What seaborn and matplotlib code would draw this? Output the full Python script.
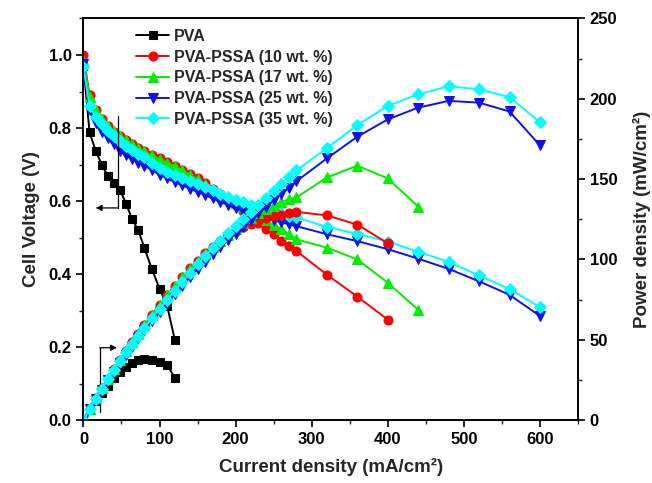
import matplotlib
matplotlib.use("Agg")
import matplotlib.pyplot as plt
from matplotlib.ticker import MultipleLocator, FormatStrFormatter
import seaborn as sns
import pandas as pd

# Current density grid (mA/cm2)
pva_current = [0, 8, 16, 24, 32, 40, 48, 56, 64, 72, 80, 90, 100, 110, 120]
pssa_current = [0, 8, 16, 24, 32, 40, 48, 56, 64, 72, 80, 90, 100, 110, 120,
                130, 140, 150, 160, 170, 180, 190, 200, 210, 220, 230, 240,
                250, 260, 270, 280, 320, 360, 400, 440, 480, 520, 560, 600]

# Cell voltage (V)
pva_voltage = [0.970, 0.788, 0.738, 0.700, 0.668, 0.649, 0.630, 0.593, 0.550,
               0.520, 0.472, 0.413, 0.360, 0.313, 0.220]
pssa10_voltage = [0.999, 0.890, 0.850, 0.825, 0.805, 0.790, 0.778, 0.766, 0.755,
                  0.745, 0.737, 0.727, 0.717, 0.707, 0.697, 0.686, 0.674, 0.662,
                  0.648, 0.634, 0.620, 0.605, 0.590, 0.573, 0.556, 0.540, 0.523,
                  0.509, 0.491, 0.477, 0.463, 0.398, 0.338, 0.275]
pssa17_voltage = [0.985, 0.885, 0.848, 0.825, 0.806, 0.791, 0.778, 0.766, 0.755,
                  0.745, 0.736, 0.725, 0.715, 0.705, 0.695, 0.684, 0.672, 0.660,
                  0.647, 0.634, 0.620, 0.608, 0.595, 0.583, 0.571, 0.559, 0.547,
                  0.535, 0.523, 0.509, 0.495, 0.472, 0.440, 0.376, 0.302]
pssa25_voltage = [0.974, 0.850, 0.815, 0.790, 0.772, 0.755, 0.737, 0.725, 0.714,
                  0.705, 0.697, 0.685, 0.672, 0.662, 0.652, 0.643, 0.634, 0.625,
                  0.616, 0.607, 0.598, 0.589, 0.580, 0.573, 0.566, 0.559, 0.553,
                  0.547, 0.542, 0.536, 0.531, 0.509, 0.490, 0.468, 0.442, 0.414,
                  0.380, 0.343, 0.285]
pssa35_voltage = [0.967, 0.860, 0.830, 0.810, 0.792, 0.778, 0.765, 0.752, 0.740,
                  0.730, 0.720, 0.705, 0.690, 0.680, 0.671, 0.663, 0.655, 0.647,
                  0.638, 0.629, 0.620, 0.612, 0.604, 0.597, 0.590, 0.583, 0.577,
                  0.571, 0.565, 0.560, 0.555, 0.529, 0.510, 0.489, 0.461, 0.433,
                  0.396, 0.359, 0.309]

# Power density (mW/cm2)
pva_power = [0.0, 6.3, 11.8, 16.8, 21.4, 26.0, 30.2, 33.2, 35.2, 37.4, 37.8,
             37.2, 36.0, 34.4, 26.4]
pssa10_power = [0.0, 7.1, 13.6, 19.8, 25.8, 31.6, 37.3, 42.9, 48.3, 53.6, 59.0,
                65.4, 71.7, 77.8, 83.6, 89.2, 94.4, 99.3, 103.7, 107.8, 111.6,
                115.0, 118.0, 120.3, 122.3, 124.2, 125.5, 127.3, 127.7, 128.8,
                129.6, 127.4, 121.7, 110.0]
pssa17_power = [0.0, 7.1, 13.6, 19.8, 25.8, 31.6, 37.3, 42.9, 48.3, 53.6, 58.9,
                65.3, 71.5, 77.6, 83.4, 88.9, 94.1, 99.0, 103.5, 107.8, 111.6,
                115.5, 119.0, 122.4, 125.6, 128.6, 131.3, 133.8, 136.0, 137.4,
                138.6, 151.0, 158.4, 150.4, 132.9]
pssa25_power = [0.0, 6.8, 13.0, 19.0, 24.7, 30.2, 35.4, 40.6, 45.7, 50.8, 55.8,
                61.7, 67.2, 72.8, 78.2, 83.6, 88.8, 93.8, 98.6, 103.2, 107.6,
                111.9, 116.0, 120.3, 124.5, 128.6, 132.7, 136.8, 140.9, 144.7,
                148.7, 162.9, 176.4, 187.2, 194.5, 198.7, 197.6, 192.1, 171.0]
pssa35_power = [0.0, 6.9, 13.3, 19.4, 25.3, 31.1, 36.7, 42.1, 47.4, 52.6, 57.6,
                63.5, 69.0, 74.8, 80.5, 86.2, 91.7, 97.1, 102.1, 106.9, 111.6,
                116.3, 120.8, 125.4, 129.8, 134.1, 138.5, 142.8, 146.9, 151.2,
                155.4, 169.3, 183.6, 195.6, 202.8, 207.8, 205.9, 201.0, 185.4]

labels = ["PVA", "PVA-PSSA (10 wt. %)", "PVA-PSSA (17 wt. %)",
          "PVA-PSSA (25 wt. %)", "PVA-PSSA (35 wt. %)"]

sns.set_style("ticks")
plt.rcParams["font.family"] = ["Liberation Sans", "DejaVu Sans"]
plt.rcParams["font.weight"] = "bold"
plt.rcParams["axes.labelweight"] = "bold"

series = [
    (pva_current, pva_voltage, pva_power, "black", "s", 6.0),
    (pssa_current[:len(pssa10_voltage)], pssa10_voltage, pssa10_power, "#ff0000", "o", 6.5),
    (pssa_current[:len(pssa17_voltage)], pssa17_voltage, pssa17_power, "#00ee00", "^", 7.0),
    (pssa_current, pssa25_voltage, pssa25_power, "#1010ee", "v", 7.0),
    (pssa_current, pssa35_voltage, pssa35_power, "#00ffff", "D", 5.8),
]

fig = plt.figure(figsize=(6.52, 4.83), dpi=100)
ax = fig.add_axes([0.128, 0.1304, 0.7585, 0.8313])
ax2 = ax.twinx()

for (cur, volt, pw, color, mk, ms), lab in zip(series, labels):
    df = pd.DataFrame({"current": cur, "voltage": volt, "power": pw})
    sns.lineplot(data=df, x="current", y="voltage", ax=ax, color=color,
                 marker=mk, markersize=ms, markeredgecolor=color,
                 linewidth=1.4, sort=False, estimator=None, label=lab)
    sns.lineplot(data=df, x="current", y="power", ax=ax2, color=color,
                 marker=mk, markersize=ms, markeredgecolor=color,
                 linewidth=1.4, sort=False, estimator=None, legend=False)

ax.set_xlim(0, 650)
ax.set_ylim(0, 1.1)
ax2.set_ylim(0, 250)

ax.xaxis.set_major_locator(MultipleLocator(100))
ax.xaxis.set_minor_locator(MultipleLocator(50))
ax.yaxis.set_major_locator(MultipleLocator(0.2))
ax.yaxis.set_minor_locator(MultipleLocator(0.1))
ax2.yaxis.set_major_locator(MultipleLocator(50))
ax2.yaxis.set_minor_locator(MultipleLocator(25))
ax.yaxis.set_major_formatter(FormatStrFormatter("%.1f"))

for a in (ax, ax2):
    for sp in a.spines.values():
        sp.set_linewidth(1.2)
        sp.set_color("black")
    a.tick_params(which="major", length=5, width=1.2, labelsize=12,
                  colors="black")
    a.tick_params(which="minor", length=3, width=1.0)
ax2.tick_params(axis="y", which="both", right=True)

ax.set_xlabel("Current density (mA/cm²)", fontsize=13.5, fontweight="bold",
              labelpad=8)
ax.set_ylabel("Cell Voltage (V)", fontsize=13.5, fontweight="bold", labelpad=6)
ax2.set_ylabel("Power density (mW/cm²)", fontsize=13.5, fontweight="bold",
               labelpad=11)

# Arrows pointing each family of curves to its axis
ax.plot([45, 45], [0.833, 0.581], color="black", linewidth=0.9)
ax.annotate("", xy=(16, 0.581), xytext=(45, 0.581),
            arrowprops=dict(arrowstyle="-|>", color="black", lw=0.9,
                            mutation_scale=9, shrinkA=0, shrinkB=0))
ax.plot([21.5, 21.5], [0.023, 0.198], color="black", linewidth=0.9)
ax.annotate("", xy=(44, 0.198), xytext=(21.5, 0.198),
            arrowprops=dict(arrowstyle="-|>", color="black", lw=0.9,
                            mutation_scale=9, shrinkA=0, shrinkB=0))

leg = ax.legend(loc="upper left", bbox_to_anchor=(0.085, 1.0), frameon=False,
                fontsize=11.5, handlelength=2.1, handletextpad=0.3,
                labelspacing=0.36, borderaxespad=0.25)
for t in leg.get_texts():
    t.set_fontweight("bold")

fig.savefig("out.png", dpi=100)
